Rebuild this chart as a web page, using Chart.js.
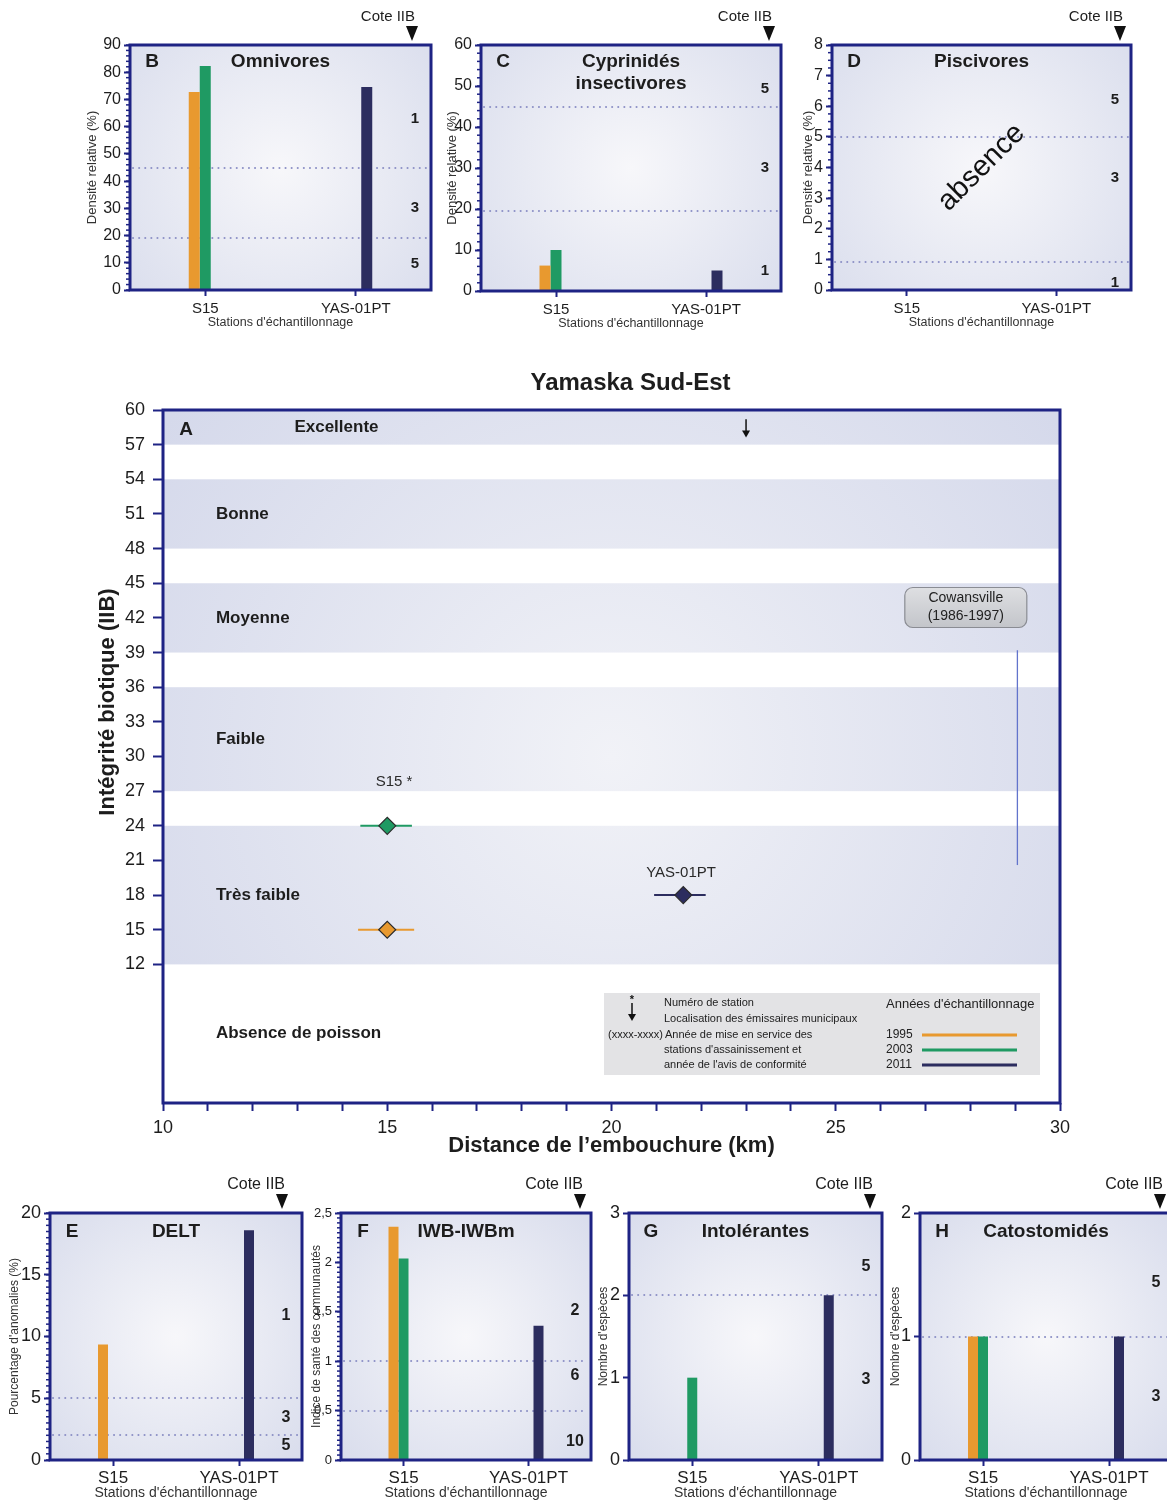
<!DOCTYPE html>
<html>
<head>
<meta charset="utf-8">
<script src="https://cdn.jsdelivr.net/npm/chart.js@4.4.1/dist/chart.umd.min.js"></script>
<style>
  html, body { margin: 0; padding: 0; background: #fff; width: 1167px; height: 1504px; overflow: hidden; }
  body { position: relative; }
  canvas { position: absolute; }
</style>
</head>
<body>
<canvas id="chart-b"></canvas>
<canvas id="chart-c"></canvas>
<canvas id="chart-d"></canvas>
<canvas id="chart-a"></canvas>
<canvas id="chart-e"></canvas>
<canvas id="chart-f"></canvas>
<canvas id="chart-g"></canvas>
<canvas id="chart-h"></canvas>
<script>
const FONT = "'Liberation Sans', Arial, Helvetica, sans-serif";
const NAVY = '#1e2384';
const INK = '#1d1d1d';
const DOTS = '#8d91c6';

// stations & years shared by every panel
const STATIONS = ['S15', 'YAS-01PT'];
const YEARS = ['1995', '2003', '2011'];
const YEAR_COLORS = ['#e8992f', '#1f9a63', '#2c2d5f'];

// B - Omnivores, densité relative (%)
const omni1995 = [72.7, null];
const omni2003 = [82.3, null];
const omni2011 = [null, 74.6];
// C - Cyprinidés insectivores (%)
const cypr1995 = [6.2, null];
const cypr2003 = [10, null];
const cypr2011 = [null, 5];
// D - Piscivores (%) : absence
const pisc1995 = [null, null];
const pisc2003 = [null, null];
const pisc2011 = [null, null];
// E - DELT, pourcentage d'anomalies (%)
const delt1995 = [9.35, null];
const delt2003 = [null, null];
const delt2011 = [null, 18.6];
// F - IWB-IWBm
const iwb1995 = [2.36, null];
const iwb2003 = [2.04, null];
const iwb2011 = [null, 1.36];
// G - Intolérantes, nombre d'espèces
const intol1995 = [null, null];
const intol2003 = [1, null];
const intol2011 = [null, 2];
// H - Catostomidés, nombre d'espèces
const cato1995 = [1, null];
const cato2003 = [1, null];
const cato2011 = [null, 1];

// A - IIB along the river
const pointKm = [15, 15, 21.6];
const pointIIB = [15, 24, 18];
const spanFrom = [14.35, 14.4, 20.95];
const spanTo = [15.6, 15.55, 22.1];
const stationLabels = ['S15 *', 'YAS-01PT'];
const stationLabelKm = [15.15, 21.55];
const stationLabelIIB = [27.8, 19.9];
const outfallKm = [23];

const bandNames = ['Excellente', 'Bonne', 'Moyenne', 'Faible', 'Très faible', 'Absence de poisson'];
const bandFrom = [57, 48, 39, 27, 12, 0];
const bandTo = [60, 54, 45, 36, 24, 12];
const bandShaded = [true, true, true, true, true, false];
const bandLabelKm = [12.93, 11.18, 11.18, 11.18, 11.18, 11.18];

const cowansvilleKm = 27.9;
const cowansvilleIIB = 42.9;
const cowansvilleLineKm = 29.05;
const cowansvilleLineFrom = 20.6;
const cowansvilleLineTo = 39.2;

Chart.defaults.font.family = FONT;
Chart.defaults.color = INK;

function text(ctx, str, x, y, font, align = 'center', color = INK, rot = 0) {
  ctx.save();
  ctx.translate(x, y);
  if (rot) ctx.rotate(rot);
  ctx.font = font;
  ctx.fillStyle = color;
  ctx.textAlign = align;
  ctx.textBaseline = 'middle';
  ctx.fillText(str, 0, 0);
  ctx.restore();
}

function panelDeco(p) {
  const big = p.row === 'bottom';
  return {
    id: 'panelDeco',
    beforeDraw(chart) {
      const { ctx, chartArea: a } = chart;
      const cx = (a.left + a.right) / 2, cy = (a.top + a.bottom) / 2;
      const g = ctx.createRadialGradient(cx, cy, 0, cx, cy, Math.max(a.width, a.height) * 0.72);
      g.addColorStop(0, '#f7f7fa');
      g.addColorStop(1, '#d8dcec');
      ctx.save();
      ctx.fillStyle = g;
      ctx.fillRect(a.left, a.top, a.width, a.height);
      ctx.restore();
    },
    beforeDatasetsDraw(chart) {
      const { ctx, chartArea: a, scales: { y } } = chart;
      ctx.save();
      ctx.strokeStyle = DOTS;
      ctx.lineWidth = 2;
      ctx.lineCap = 'round';
      ctx.setLineDash([0.1, 6]);
      p.limits.forEach((v) => {
        const py = Math.round(y.getPixelForValue(v));
        ctx.beginPath();
        ctx.moveTo(a.left + 3, py);
        ctx.lineTo(a.right - 3, py);
        ctx.stroke();
      });
      ctx.restore();
    },
    afterDatasetsDraw(chart) {
      const { ctx, chartArea: a, scales: { y } } = chart;
      ctx.save();
      // frame
      ctx.strokeStyle = NAVY;
      ctx.lineWidth = 3;
      ctx.strokeRect(a.left, a.top, a.width, a.height);
      // minor ticks
      if (p.yMinor) {
        ctx.lineWidth = 1.5;
        const n = Math.round(p.yMax / p.yMinor);
        for (let i = 0; i <= n; i++) {
          const py = y.getPixelForValue(i * p.yMinor);
          ctx.beginPath();
          ctx.moveTo(a.left - 4, py);
          ctx.lineTo(a.left, py);
          ctx.stroke();
        }
      }
      // cote arrow
      const ax = a.right - p.arrowOff;
      ctx.fillStyle = '#111';
      ctx.beginPath();
      ctx.moveTo(ax - 6, a.top - 19);
      ctx.lineTo(ax + 6, a.top - 19);
      ctx.lineTo(ax, a.top - 4);
      ctx.closePath();
      ctx.fill();
      ctx.restore();

      text(ctx, 'Cote IIB', ax + 3, a.top - 28, `${big ? 16 : 15}px ${FONT}`, 'right');
      text(ctx, p.letter, a.left + 22, a.top + (big ? 19 : 17), `bold 19px ${FONT}`, 'center');
      p.title.forEach((t, i) => {
        text(ctx, t, (a.left + a.right) / 2 + (p.titleShift || 0), a.top + (big ? 19 : 17) + i * 22, `bold 19px ${FONT}`);
      });
      p.scores.forEach((s, i) => {
        text(ctx, s, a.right - 16, y.getPixelForValue(p.scoreAt[i]), `bold ${big ? 16 : 15}px ${FONT}`);
      });
      text(ctx, p.yTitle, a.left - p.yTitleOff, (a.top + a.bottom) / 2, `${big ? 12 : 13}px ${FONT}`, 'center', '#333', -Math.PI / 2);
      text(ctx, "Stations d'échantillonnage", (a.left + a.right) / 2, a.bottom + 33, `${big ? 14 : 12.5}px ${FONT}`, 'center', '#333');
      if (p.absence) {
        text(ctx, 'absence', (a.left + a.right) / 2, (a.top + a.bottom) / 2, `29px ${FONT}`, 'center', '#111', -Math.PI / 4);
      }
    },
  };
}

function makePanel(p) {
  const YW = 62, TOP = 48, RIGHT = 24, XH = 44;
  const canvas = document.getElementById(p.id);
  canvas.width = YW + p.plotW + RIGHT;
  canvas.height = TOP + p.plotH + XH;
  canvas.style.left = (p.left - YW) + 'px';
  canvas.style.top = (p.top - TOP) + 'px';
  const big = p.row === 'bottom';
  const slot = (p.barPx * 3) / (p.plotW / 2);

  return new Chart(canvas, {
    type: 'bar',
    data: {
      labels: STATIONS,
      datasets: p.series.map((data, i) => ({
        label: YEARS[i],
        data,
        backgroundColor: YEAR_COLORS[i],
        borderWidth: 0,
      })),
    },
    options: {
      responsive: false,
      animation: false,
      devicePixelRatio: 1,
      layout: { padding: { top: TOP, right: RIGHT, left: 0, bottom: 0 } },
      datasets: { bar: { barPercentage: 1, categoryPercentage: slot } },
      plugins: { legend: { display: false }, tooltip: { enabled: false } },
      scales: {
        x: {
          grid: { offset: false, drawOnChartArea: false, tickLength: 6, tickWidth: 2, tickColor: NAVY },
          border: { display: false },
          ticks: { font: { size: big ? 17 : 15 }, color: INK, padding: big ? 2 : 4, maxRotation: 0 },
          afterFit: (s) => { s.height = XH; },
        },
        y: {
          min: 0,
          max: p.yMax,
          grid: { drawOnChartArea: false, tickLength: 6, tickWidth: 2, tickColor: NAVY },
          border: { display: false },
          ticks: {
            stepSize: p.yStep,
            font: { size: p.yFont },
            color: INK,
            padding: 3,
            callback: p.yFmt || ((v) => v),
          },
          afterFit: (s) => { s.width = YW; },
        },
      },
    },
    plugins: [panelDeco(p)],
  });
}

const mainDeco = {
  id: 'mainDeco',
  beforeDraw(chart) {
    const { ctx, chartArea: a, scales: { y } } = chart;
    ctx.save();
    ctx.fillStyle = '#ffffff';
    ctx.fillRect(a.left, a.top, a.width, a.height);
    const cx = (a.left + a.right) / 2, cy = (a.top + a.bottom) / 2;
    const g = ctx.createRadialGradient(cx, cy, 0, cx, cy, a.width * 0.62);
    g.addColorStop(0, '#f1f2f7');
    g.addColorStop(1, '#d5d9eb');
    ctx.fillStyle = g;
    bandFrom.forEach((lo, i) => {
      if (!bandShaded[i]) return;
      const top = y.getPixelForValue(bandTo[i]);
      const bot = y.getPixelForValue(lo);
      ctx.fillRect(a.left, top, a.width, bot - top);
    });
    ctx.restore();
  },
  beforeDatasetsDraw(chart) {
    const { ctx, chartArea: a, scales: { x, y } } = chart;
    bandNames.forEach((name, i) => {
      text(ctx, name, x.getPixelForValue(bandLabelKm[i]), y.getPixelForValue((bandFrom[i] + bandTo[i]) / 2), `bold 17px ${FONT}`, 'left');
    });
    text(ctx, 'A', a.left + 23, y.getPixelForValue(58.3), `bold 19px ${FONT}`);

    // emissaire municipal
    ctx.save();
    ctx.strokeStyle = '#111';
    ctx.fillStyle = '#111';
    ctx.lineWidth = 1.5;
    outfallKm.forEach((km) => {
      const px = x.getPixelForValue(km);
      const y0 = y.getPixelForValue(59.2), y1 = y.getPixelForValue(57.7);
      ctx.beginPath(); ctx.moveTo(px, y0); ctx.lineTo(px, y1 - 4); ctx.stroke();
      ctx.beginPath(); ctx.moveTo(px - 4, y1 - 6); ctx.lineTo(px + 4, y1 - 6); ctx.lineTo(px, y1 + 1); ctx.closePath(); ctx.fill();
    });

    // Cowansville
    const lx = x.getPixelForValue(cowansvilleLineKm);
    ctx.strokeStyle = '#6274cc';
    ctx.lineWidth = 1.3;
    ctx.beginPath();
    ctx.moveTo(lx, y.getPixelForValue(cowansvilleLineTo));
    ctx.lineTo(lx, y.getPixelForValue(cowansvilleLineFrom));
    ctx.stroke();

    const bx = x.getPixelForValue(cowansvilleKm), by = y.getPixelForValue(cowansvilleIIB);
    const bw = 122, bh = 40, r = 8;
    const gb = ctx.createLinearGradient(0, by - bh / 2, 0, by + bh / 2);
    gb.addColorStop(0, '#dedfe2');
    gb.addColorStop(1, '#c3c5ca');
    ctx.fillStyle = gb;
    ctx.strokeStyle = '#8a8c93';
    ctx.lineWidth = 1.2;
    ctx.beginPath();
    ctx.roundRect(bx - bw / 2, by - bh / 2, bw, bh, r);
    ctx.fill();
    ctx.stroke();
    ctx.restore();
    text(ctx, 'Cowansville', bx, by - 9, `14px ${FONT}`, 'center', '#222');
    text(ctx, '(1986-1997)', bx, by + 9, `14px ${FONT}`, 'center', '#222');

    stationLabels.forEach((s, i) => {
      text(ctx, s, x.getPixelForValue(stationLabelKm[i]), y.getPixelForValue(stationLabelIIB[i]), `15px ${FONT}`, 'center', '#2a2a2a');
    });

    // legend
    const ox = a.left + 441, oy = a.top + 583;
    ctx.save();
    ctx.fillStyle = '#e3e3e5';
    ctx.fillRect(ox, oy, 436, 82);
    ctx.fillStyle = '#111';
    ctx.strokeStyle = '#111';
    ctx.lineWidth = 1.5;
    ctx.beginPath(); ctx.moveTo(ox + 28, oy + 10); ctx.lineTo(ox + 28, oy + 23); ctx.stroke();
    ctx.beginPath(); ctx.moveTo(ox + 24, oy + 21); ctx.lineTo(ox + 32, oy + 21); ctx.lineTo(ox + 28, oy + 28); ctx.closePath(); ctx.fill();
    ctx.restore();
    text(ctx, '*', ox + 28, oy + 7, `bold 11px ${FONT}`, 'center', '#111');
    const small = `11px ${FONT}`;
    text(ctx, 'Numéro de station', ox + 60, oy + 10, small, 'left', '#222');
    text(ctx, 'Localisation des émissaires municipaux', ox + 60, oy + 26, small, 'left', '#222');
    text(ctx, '(xxxx-xxxx)', ox + 59, oy + 42, small, 'right', '#222');
    text(ctx, 'Année de mise en service des', ox + 61, oy + 42, small, 'left', '#222');
    text(ctx, "stations d'assainissement et", ox + 60, oy + 57, small, 'left', '#222');
    text(ctx, "année de l'avis de conformité", ox + 60, oy + 72, small, 'left', '#222');
    text(ctx, "Années d'échantillonnage", ox + 282, oy + 11, `13px ${FONT}`, 'left', '#222');
    YEARS.forEach((yr, i) => {
      const ly = oy + 42 + i * 15;
      text(ctx, yr, ox + 282, ly, `12px ${FONT}`, 'left', '#222');
      ctx.save();
      ctx.strokeStyle = YEAR_COLORS[i];
      ctx.lineWidth = 3;
      ctx.beginPath(); ctx.moveTo(ox + 318, ly); ctx.lineTo(ox + 413, ly); ctx.stroke();
      ctx.restore();
    });
  },
  afterDatasetsDraw(chart) {
    const { ctx, chartArea: a } = chart;
    ctx.save();
    ctx.strokeStyle = NAVY;
    ctx.lineWidth = 3;
    ctx.strokeRect(a.left, a.top, a.width, a.height);
    ctx.restore();
    text(ctx, 'Yamaska Sud-Est', (a.left + a.right) / 2 + 19, a.top - 27, `bold 24px ${FONT}`);
    text(ctx, "Distance de l’embouchure (km)", (a.left + a.right) / 2, a.bottom + 43, `bold 22px ${FONT}`);
    text(ctx, 'Intégrité biotique (IIB)', 108, a.top + 292, `bold 22px ${FONT}`, 'center', INK, -Math.PI / 2);
  },
};

function makeMain() {
  const canvas = document.getElementById('chart-a');
  const TOP = 350;
  canvas.width = 1167;
  canvas.height = 810;
  canvas.style.left = '0px';
  canvas.style.top = TOP + 'px';

  const spans = YEARS.map((yr, i) => ({
    type: 'line',
    label: yr + ' span',
    data: [{ x: spanFrom[i], y: pointIIB[i] }, { x: spanTo[i], y: pointIIB[i] }],
    borderColor: YEAR_COLORS[i],
    borderWidth: 2,
    pointRadius: 0,
    order: 2,
  }));
  const points = YEARS.map((yr, i) => ({
    type: 'scatter',
    label: yr,
    data: [{ x: pointKm[i], y: pointIIB[i] }],
    pointStyle: 'rectRot',
    pointRadius: 8.5,
    backgroundColor: YEAR_COLORS[i],
    borderColor: '#2b2b2b',
    borderWidth: 1.2,
    order: 1,
  }));

  return new Chart(canvas, {
    type: 'scatter',
    data: { datasets: [...spans, ...points] },
    options: {
      responsive: false,
      animation: false,
      devicePixelRatio: 1,
      layout: { padding: { top: 60, right: 107, left: 0, bottom: 0 } },
      plugins: { legend: { display: false }, tooltip: { enabled: false } },
      scales: {
        x: {
          type: 'linear',
          min: 10,
          max: 30,
          grid: { drawOnChartArea: false, tickLength: 8, tickWidth: 2, tickColor: NAVY },
          border: { display: false },
          ticks: { stepSize: 1, autoSkip: false, maxRotation: 0, padding: 6, font: { size: 18 }, color: INK, callback: (v) => (v % 5 === 0 ? v : '') },
          afterFit: (s) => { s.height = 57; },
        },
        y: {
          min: 0,
          max: 60,
          grid: {
            drawOnChartArea: false,
            tickLength: 10,
            tickWidth: 2,
            tickColor: (c) => (c.tick && c.tick.value >= 12 ? NAVY : 'rgba(0,0,0,0)'),
          },
          border: { display: false },
          ticks: { stepSize: 3, autoSkip: false, padding: 8, font: { size: 18 }, color: INK, callback: (v) => (v >= 12 ? v : '') },
          afterFit: (s) => { s.width = 163; },
        },
      },
    },
    plugins: [mainDeco],
  });
}

const comma = (v) => String(Math.round(v * 100) / 100).replace('.', ',');

makePanel({ id: 'chart-b', row: 'top', left: 130, top: 45, plotW: 301, plotH: 245, yMax: 90, yStep: 10, yMinor: 2, yFont: 16,
  series: [omni1995, omni2003, omni2011], limits: [45, 19.2], scores: ['1', '3', '5'], scoreAt: [63, 30, 9.6],
  letter: 'B', title: ['Omnivores'], yTitle: 'Densité relative (%)', yTitleOff: 38, barPx: 11, arrowOff: 19 });
makePanel({ id: 'chart-c', row: 'top', left: 481, top: 45, plotW: 300, plotH: 246, yMax: 60, yStep: 10, yMinor: 2, yFont: 16,
  series: [cypr1995, cypr2003, cypr2011], limits: [45, 19.6], scores: ['5', '3', '1'], scoreAt: [49.3, 30, 4.9],
  letter: 'C', title: ['Cyprinidés', 'insectivores'], yTitle: 'Densité relative (%)', yTitleOff: 29, barPx: 11, arrowOff: 12 });
makePanel({ id: 'chart-d', row: 'top', left: 832, top: 45, plotW: 299, plotH: 245, yMax: 8, yStep: 1, yMinor: 0.25, yFont: 16,
  series: [pisc1995, pisc2003, pisc2011], limits: [5, 0.92], scores: ['5', '3', '1'], scoreAt: [6.2, 3.65, 0.24],
  letter: 'D', title: ['Piscivores'], yTitle: 'Densité relative (%)', yTitleOff: 24, barPx: 11, arrowOff: 11, absence: true });

makeMain();

makePanel({ id: 'chart-e', row: 'bottom', left: 50, top: 1213, plotW: 252, plotH: 247, yMax: 20, yStep: 5, yMinor: 0.5, yFont: 18,
  series: [delt1995, delt2003, delt2011], limits: [5, 2], scores: ['1', '3', '5'], scoreAt: [11.7, 3.4, 1.2],
  letter: 'E', title: ['DELT'], yTitle: "Pourcentage d'anomalies (%)", yTitleOff: 35, barPx: 10, arrowOff: 20 });
makePanel({ id: 'chart-f', row: 'bottom', left: 341, top: 1213, plotW: 250, plotH: 247, yMax: 2.5, yStep: 0.5, yMinor: 0.05, yFont: 13, yFmt: comma,
  series: [iwb1995, iwb2003, iwb2011], limits: [1, 0.5], scores: ['2', '6', '10'], scoreAt: [1.51, 0.85, 0.19],
  letter: 'F', title: ['IWB-IWBm'], yTitle: 'Indice de santé des communautés', yTitleOff: 24, barPx: 10, arrowOff: 11 });
makePanel({ id: 'chart-g', row: 'bottom', left: 629, top: 1213, plotW: 253, plotH: 247, yMax: 3, yStep: 1, yFont: 18,
  series: [intol1995, intol2003, intol2011], limits: [2], scores: ['5', '3'], scoreAt: [2.35, 0.98],
  letter: 'G', title: ['Intolérantes'], yTitle: "Nombre d'espèces", yTitleOff: 25, barPx: 10, arrowOff: 12 });
makePanel({ id: 'chart-h', row: 'bottom', left: 920, top: 1213, plotW: 252, plotH: 247, yMax: 2, yStep: 1, yFont: 18,
  series: [cato1995, cato2003, cato2011], limits: [1], scores: ['5', '3'], scoreAt: [1.44, 0.51],
  letter: 'H', title: ['Catostomidés'], yTitle: "Nombre d'espèces", yTitleOff: 24, barPx: 10, arrowOff: 12 });
</script>
</body>
</html>
